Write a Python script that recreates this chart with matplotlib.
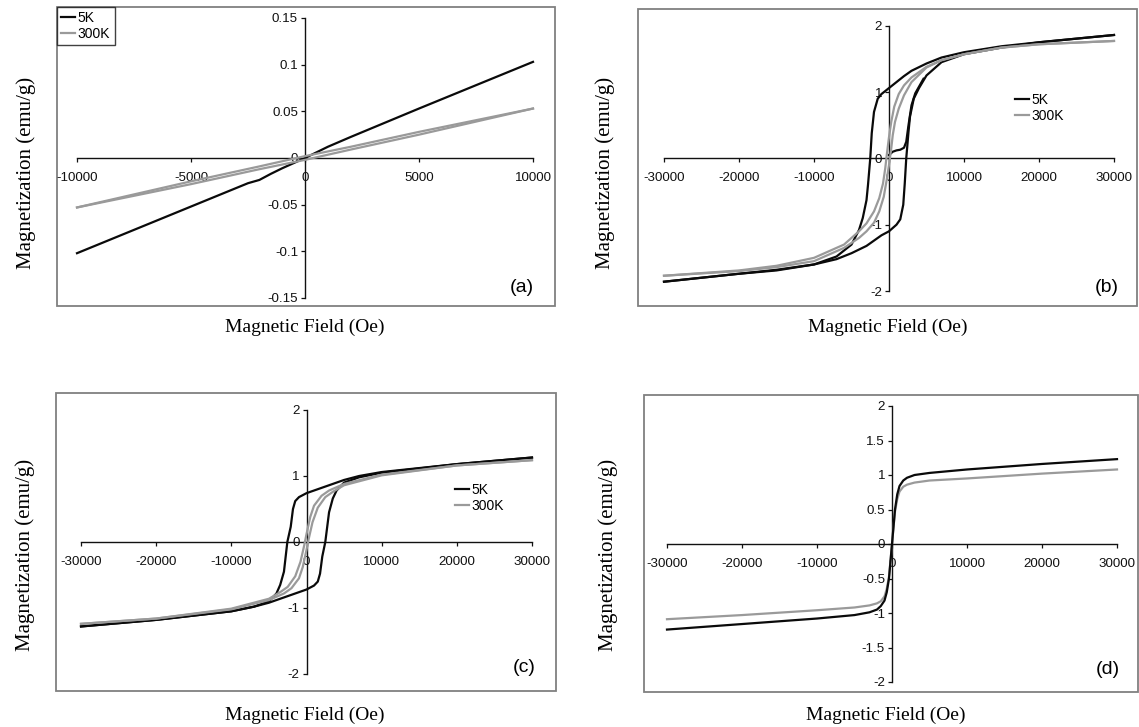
import matplotlib
matplotlib.use("Agg")
import matplotlib.pyplot as plt
from matplotlib.patches import Rectangle
from matplotlib.ticker import FuncFormatter

W, H = 1139, 727
DPI = 100

# ---------------- data ----------------
# Panel (a)
A_H_5K = [-10000, -5000, -2500, -2000, -1500, -1000, 0, 1000, 2000, 5000, 10000]
A_M_5K = [-0.102, -0.052, -0.027, -0.0235, -0.017, -0.011, 0.0, 0.012, 0.0225, 0.053, 0.103]
A_H_300K_desc = [10000, 5000, 2000, 0, -2000, -5000, -10000]
A_M_300K_desc = [0.053, 0.028, 0.012, 0.002, -0.009, -0.025, -0.053]
A_H_300K_asc = [-10000, -5000, -2000, 0, 2000, 5000, 10000]
A_M_300K_asc = [-0.053, -0.028, -0.012, -0.002, 0.009, 0.025, 0.053]

# Panel (b)
B_H_5K_virgin = [0, 500, 1000, 1500, 2000, 2300, 2600, 3000, 3500, 4000, 4600]
B_M_5K_virgin = [0.05, 0.1, 0.12, 0.13, 0.16, 0.25, 0.5, 0.8, 0.98, 1.08, 1.2]
B_H_5K_desc = [30000, 20000, 15000, 10000, 7000, 5000, 3000, 2000, 1000, 0, -1000, -1500,
               -2000, -2300, -2500, -2800, -3000, -3500, -4000, -5000, -7000, -10000,
               -15000, -20000, -30000]
B_M_5K_desc = [1.86, 1.75, 1.69, 1.60, 1.52, 1.43, 1.32, 1.24, 1.15, 1.06, 0.97, 0.90,
               0.70, 0.38, 0.0, -0.40, -0.63, -0.90, -1.08, -1.30, -1.48, -1.60,
               -1.68, -1.74, -1.86]
B_H_5K_asc = [-30000, -20000, -15000, -10000, -7000, -5000, -3000, -2000, -1000, 0, 1000,
              1500, 1900, 2100, 2300, 2600, 2800, 3300, 4000, 5000, 7000, 10000,
              15000, 20000, 30000]
B_M_5K_asc = [-1.86, -1.74, -1.69, -1.60, -1.52, -1.43, -1.32, -1.24, -1.16, -1.10, -1.0,
              -0.92, -0.70, -0.38, 0.0, 0.40, 0.63, 0.90, 1.06, 1.25, 1.45, 1.57,
              1.67, 1.75, 1.86]
B_H_300K_desc = [30000, 20000, 15000, 10000, 7000, 5000, 3000, 2000, 1300, 700, 300, 0,
                 -300, -500, -800, -1300, -2000, -3000, -4000, -6000, -10000, -15000,
                 -20000, -30000]
B_M_300K_desc = [1.77, 1.72, 1.67, 1.57, 1.48, 1.38, 1.22, 1.10, 0.97, 0.78, 0.55, 0.32,
                 0.05, -0.15, -0.38, -0.60, -0.80, -0.98, -1.10, -1.30, -1.50, -1.62,
                 -1.69, -1.77]
B_H_300K_asc = [-30000, -20000, -15000, -10000, -6000, -4000, -3000, -2000, -1300, -700,
                -300, 0, 300, 500, 800, 1300, 2000, 3000, 5000, 7000, 10000, 15000,
                20000, 30000]
B_M_300K_asc = [-1.77, -1.70, -1.64, -1.55, -1.35, -1.20, -1.10, -0.97, -0.80, -0.58,
                -0.32, -0.10, 0.15, 0.35, 0.55, 0.75, 0.95, 1.15, 1.37, 1.48, 1.57, 1.67,
                1.72, 1.77]

# Panel (c)
C_H_5K_desc = [30000, 20000, 10000, 7000, 5000, 3000, 1000, 0, -1000, -1500, -1800,
               -2100, -2550, -3000, -3500, -4000, -5000, -7000, -10000, -20000, -30000]
C_M_5K_desc = [1.28, 1.18, 1.06, 1.00, 0.94, 0.86, 0.78, 0.74, 0.68, 0.62, 0.50,
               0.23, 0.0, -0.45, -0.65, -0.78, -0.90, -0.98, -1.05, -1.18, -1.28]
C_H_5K_asc = [-30000, -20000, -10000, -7000, -5000, -3000, -1000, 0, 1000, 1500, 1800,
              2100, 2500, 3000, 3500, 4000, 5000, 7000, 10000, 20000, 30000]
C_M_5K_asc = [-1.28, -1.18, -1.05, -0.98, -0.92, -0.84, -0.76, -0.72, -0.66, -0.60, -0.48,
              -0.22, 0.0, 0.45, 0.66, 0.78, 0.90, 0.98, 1.05, 1.18, 1.28]
C_H_300K_desc = [30000, 20000, 10000, 5000, 3000, 2000, 1000, 500, 0, -300, -800, -1500,
                 -2500, -3500, -5000, -10000, -20000, -30000]
C_M_300K_desc = [1.24, 1.16, 1.02, 0.88, 0.78, 0.70, 0.55, 0.38, 0.12, -0.05, -0.30, -0.52,
                 -0.68, -0.76, -0.86, -1.01, -1.16, -1.24]
C_H_300K_asc = [-30000, -20000, -10000, -5000, -3000, -2000, -1000, -500, 0, 300, 800, 1500,
                2500, 3500, 5000, 10000, 20000, 30000]
C_M_300K_asc = [-1.24, -1.16, -1.02, -0.88, -0.78, -0.70, -0.55, -0.38, -0.12, 0.05, 0.30,
                0.52, 0.68, 0.76, 0.86, 1.01, 1.16, 1.24]

# Panel (d)
D_H = [-30000, -20000, -10000, -5000, -3000, -2000, -1500, -1000, -700, -400, -200, 0,
       200, 400, 700, 1000, 1500, 2000, 3000, 5000, 10000, 20000, 30000]
D_M_5K = [-1.24, -1.16, -1.08, -1.03, -0.99, -0.95, -0.90, -0.82, -0.70, -0.50, -0.25, 0.0,
          0.25, 0.50, 0.72, 0.84, 0.92, 0.96, 1.00, 1.03, 1.08, 1.16, 1.23]
D_M_300K = [-1.09, -1.03, -0.96, -0.92, -0.89, -0.86, -0.83, -0.76, -0.65, -0.47, -0.24, 0.0,
            0.24, 0.47, 0.65, 0.76, 0.83, 0.86, 0.89, 0.92, 0.95, 1.02, 1.08]

A_XTICKS = [-10000, -5000, 0, 5000, 10000]
A_YTICKS = [-0.15, -0.1, -0.05, 0, 0.05, 0.1, 0.15]
BC_XTICKS = [-30000, -20000, -10000, 0, 10000, 20000, 30000]
BC_YTICKS = [-2, -1, 0, 1, 2]
D_YTICKS = [-2, -1.5, -1, -0.5, 0, 0.5, 1, 1.5, 2]

LABELS = ["5K", "300K"]
PANEL_TAGS = ["(a)", "(b)", "(c)", "(d)"]
XLABEL = "Magnetic Field (Oe)"
YLABEL = "Magnetization (emu/g)"

BLACK = "#0a0a0a"
GREY = "#9a9a9a"
FRAME = "#808080"
SANS = "Liberation Sans"
SERIF = "Liberation Serif"
TICK_FS = 9.6
LEG_FS = 10

fig = plt.figure(figsize=(W / DPI, H / DPI), dpi=DPI)
fig.patch.set_facecolor("white")


def make_axes(frame, xref, yref, xticks, yticks):
    x0, y0, x1, y1 = frame
    ax = fig.add_axes([x0 / W, 1 - y1 / H, (x1 - x0) / W, (y1 - y0) / H])
    (xa, pa), (xb, pb) = xref
    sx = (pb - pa) / (xb - xa)
    ax.set_xlim(xa - (pa - x0) / sx, xa + (x1 - pa) / sx)
    (ya, qa), (yb, qb) = yref
    sy = (qa - qb) / (yb - ya)
    ax.set_ylim(ya - (y1 - qa) / sy, ya + (qa - y0) / sy)
    for s in ("top", "right"):
        ax.spines[s].set_visible(False)
    ax.spines["left"].set_position(("data", 0))
    ax.spines["bottom"].set_position(("data", 0))
    ax.spines["left"].set_bounds(min(yticks), max(yticks))
    ax.spines["bottom"].set_bounds(min(xticks), max(xticks))
    for s in ("left", "bottom"):
        ax.spines[s].set_linewidth(1.0)
        ax.spines[s].set_color("#111111")
    ax.set_xticks(xticks)
    ax.set_yticks(yticks)
    fmt = FuncFormatter(lambda v, p: "%g" % v)
    ax.xaxis.set_major_formatter(fmt)
    ax.yaxis.set_major_formatter(fmt)
    ax.tick_params(axis="x", direction="out", length=3, width=0.9, pad=7,
                   labelsize=TICK_FS, colors="#111111")
    ax.tick_params(axis="y", direction="out", length=3, width=0.9, pad=2,
                   labelsize=TICK_FS, colors="#111111")
    for lab in ax.get_xticklabels() + ax.get_yticklabels():
        lab.set_fontfamily(SANS)
    ax.patch.set_visible(False)
    ax.add_patch(Rectangle((0, 0), 1, 1, transform=ax.transAxes, fill=False,
                           edgecolor=FRAME, linewidth=1.3, clip_on=False, zorder=1))
    return ax


def fig_text(px, py, s, **kw):
    fig.text(px / W, 1 - py / H, s, **kw)


LW = 1.6

# (a)
axa = make_axes((57, 7, 555, 306), ((-10000, 77), (10000, 533)),
                ((0.15, 18), (-0.15, 298)), A_XTICKS, A_YTICKS)
la, = axa.plot(A_H_5K, A_M_5K, color=BLACK, lw=LW, zorder=3)
lb, = axa.plot(A_H_300K_desc, A_M_300K_desc, color=GREY, lw=LW, zorder=3)
axa.plot(A_H_300K_asc, A_M_300K_asc, color=GREY, lw=LW, zorder=3)
leg = axa.legend([la, lb], LABELS, loc="upper left", bbox_to_anchor=(0, 1),
                 borderaxespad=0, frameon=True, fancybox=False, handlelength=1.0,
                 handletextpad=0.2, borderpad=0.3, labelspacing=0.15,
                 prop={"family": SANS, "size": LEG_FS})
leg.get_frame().set_edgecolor("#111111")
leg.get_frame().set_linewidth(1.0)

# (b)
axb = make_axes((638, 9, 1137, 306), ((-30000, 664), (30000, 1114)),
                ((2, 25.7), (-2, 291)), BC_XTICKS, BC_YTICKS)
lb1, = axb.plot(B_H_5K_desc, B_M_5K_desc, color=BLACK, lw=LW, zorder=3)
axb.plot(B_H_5K_asc, B_M_5K_asc, color=BLACK, lw=LW, zorder=3)
axb.plot(B_H_5K_virgin, B_M_5K_virgin, color=BLACK, lw=LW, zorder=3)
lb2, = axb.plot(B_H_300K_desc, B_M_300K_desc, color=GREY, lw=LW, zorder=3)
axb.plot(B_H_300K_asc, B_M_300K_asc, color=GREY, lw=LW, zorder=3)
fig.legend([lb1, lb2], LABELS, loc="upper left",
           bbox_to_anchor=(1008 / W, 1 - 86 / H), frameon=False, handlelength=1.0,
           handletextpad=0.2, borderpad=0, labelspacing=0.15,
           prop={"family": SANS, "size": LEG_FS})

# (c)
axc = make_axes((56, 393, 556, 691), ((-30000, 81), (30000, 532)),
                ((2, 410), (-2, 674)), BC_XTICKS, BC_YTICKS)
lc1, = axc.plot(C_H_5K_desc, C_M_5K_desc, color=BLACK, lw=LW, zorder=3)
axc.plot(C_H_5K_asc, C_M_5K_asc, color=BLACK, lw=LW, zorder=3)
lc2, = axc.plot(C_H_300K_desc, C_M_300K_desc, color=GREY, lw=LW, zorder=3)
axc.plot(C_H_300K_asc, C_M_300K_asc, color=GREY, lw=LW, zorder=3)
fig.legend([lc1, lc2], LABELS, loc="upper left",
           bbox_to_anchor=(448 / W, 1 - 476 / H), frameon=False, handlelength=1.0,
           handletextpad=0.2, borderpad=0, labelspacing=0.15,
           prop={"family": SANS, "size": LEG_FS})

# (d)
axd = make_axes((644, 395, 1138, 692), ((-30000, 667), (30000, 1117)),
                ((2, 406), (-2, 682)), BC_XTICKS, D_YTICKS)
axd.plot(D_H, D_M_300K, color=GREY, lw=LW, zorder=3)
axd.plot(D_H, D_M_5K, color=BLACK, lw=LW, zorder=3)

# labels
for (px, py) in [(26, 173), (605, 173), (25, 555), (608, 555)]:
    fig_text(px, py, YLABEL, rotation=90, ha="center", va="center",
             family=SERIF, fontsize=15)
for (px, py) in [(305, 327), (888, 327), (305, 715), (886, 715)]:
    fig_text(px, py, XLABEL, ha="center", va="center", family=SERIF, fontsize=14)
for (px, py), tag in zip([(522, 287), (1107, 287), (524, 668), (1108, 670)], PANEL_TAGS):
    fig_text(px, py, tag, ha="center", va="center", family=SANS, fontsize=14)

fig.savefig("out.png", dpi=DPI, facecolor="white")
